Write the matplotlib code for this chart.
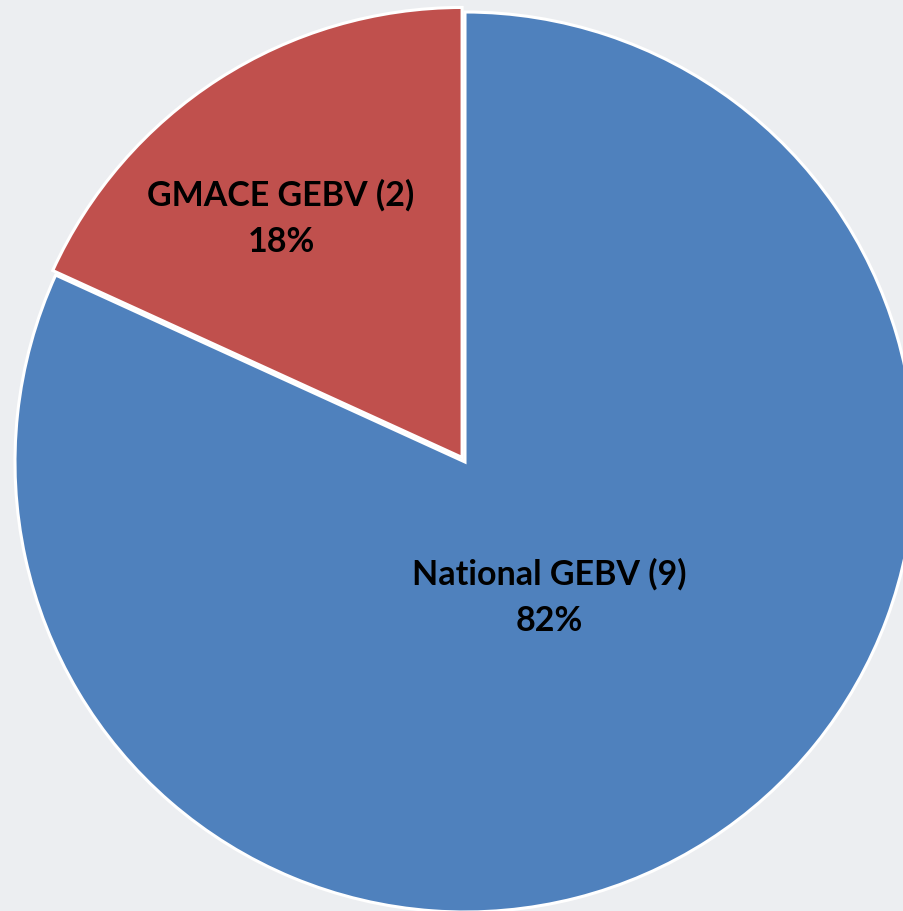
import matplotlib
matplotlib.use("Agg")
import matplotlib.pyplot as plt

# slice data
labels = ["GMACE GEBV", "National GEBV"]
counts = [2, 9]
colors = ["#c0504d", "#4f81bd"]

fig = plt.figure(figsize=(9.04, 9.12), dpi=100)
fig.patch.set_facecolor("#eceef1")

# axes placed so the pie circle sits where the reference puts it
W, H = 904.0, 912.0
cx, cy, r = 465.0, 463.0, 450.0
ax = fig.add_axes([(cx - r) / W, (H - cy - r) / H, 2 * r / W, 2 * r / H])

wedges, _ = ax.pie(counts, colors=colors, startangle=90, counterclock=True,
                   explode=[0.012, 0], radius=1,
                   wedgeprops=dict(edgecolor="white", linewidth=2.2))
for w in wedges:
    w.set_clip_on(False)
# pie() resets the limits, so set them afterwards
ax.set_xlim(-1, 1)
ax.set_ylim(-1, 1)
ax.axis("off")

total = sum(counts)
pos = [(-0.409, 0.544), (0.187, -0.298)]
for lab, c, (x, y) in zip(labels, counts, pos):
    pct = round(100.0 * c / total)
    ax.text(x, y, "%s (%d)\n%d%%" % (lab, c, pct), ha="center", va="center",
            fontsize=24.5, fontweight="bold", family=["Lato", "DejaVu Sans"],
            color="black", linespacing=1.55)

fig.savefig("out.png", dpi=100, facecolor=fig.get_facecolor())
